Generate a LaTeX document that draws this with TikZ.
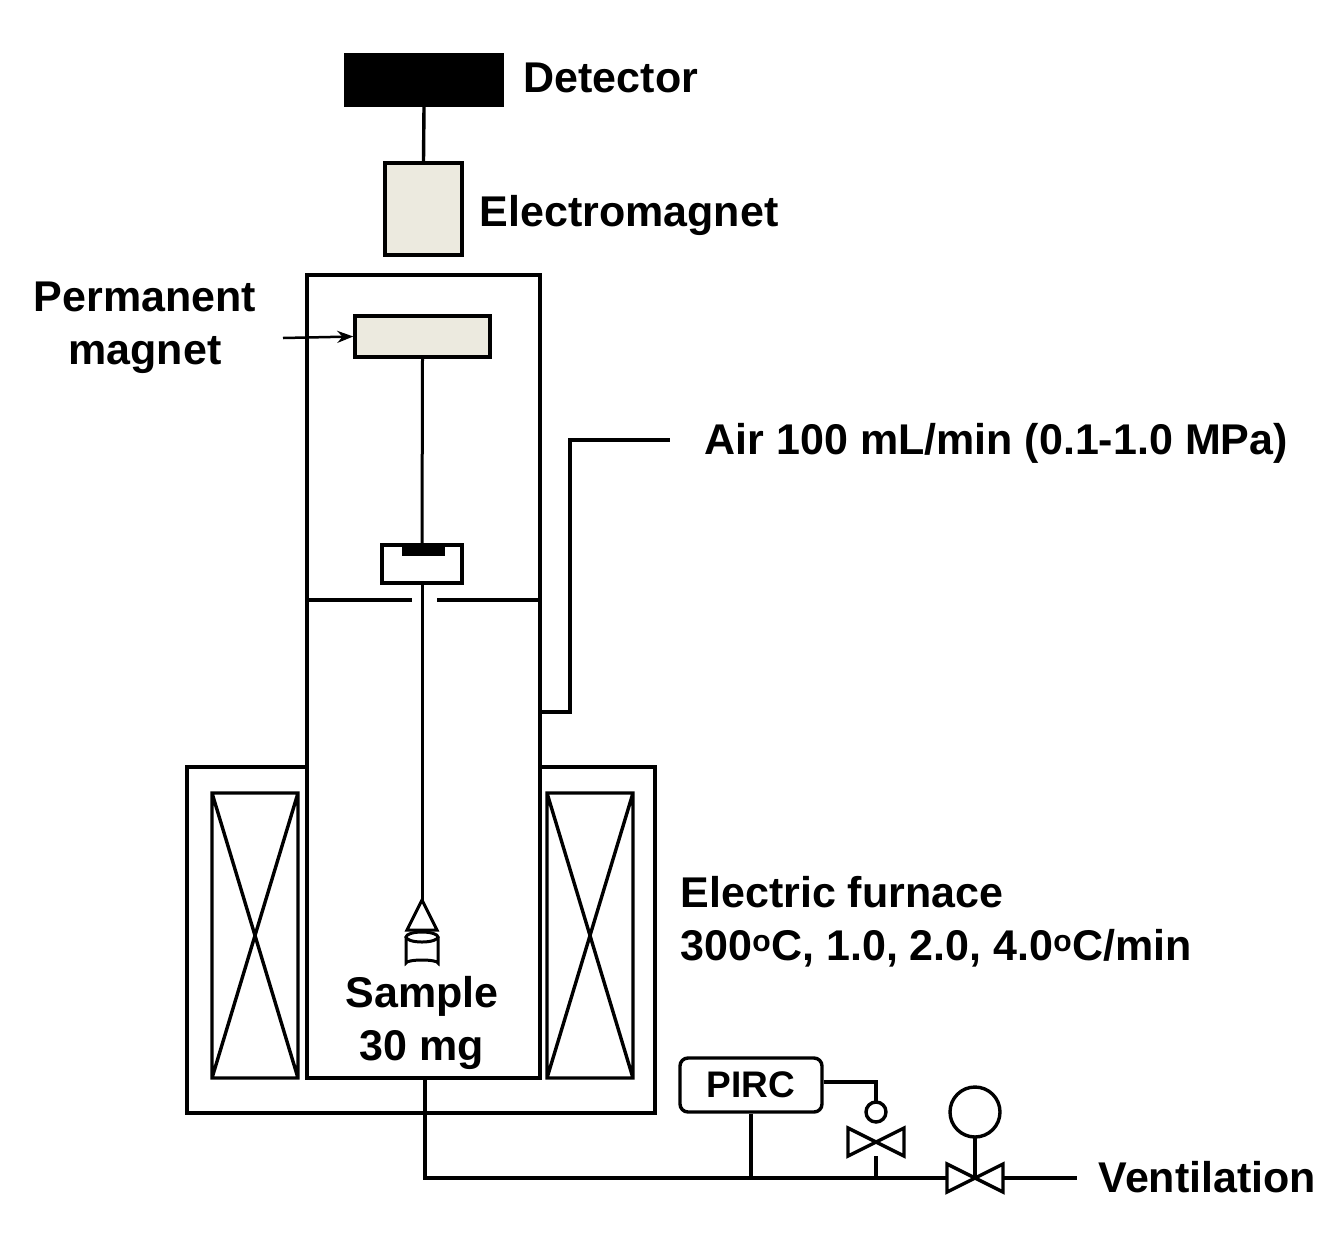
\documentclass[tikz,border=0pt]{standalone}
\usepackage{fontspec}
\setmainfont{Liberation Sans}
\usetikzlibrary{arrows.meta}
\definecolor{bg}{HTML}{ECEADF}
\begin{document}
\begin{tikzpicture}[x=1pt,y=-1pt,line width=3.4pt,
  lbl/.style={font=\fontsize{43}{53}\selectfont\bfseries,inner sep=0pt},
  beige/.style={draw,fill=bg}]
\useasboundingbox (0,0) rectangle (1338,1251);
% detector
\node[draw,fill=black,minimum width=156,minimum height=50,inner sep=0] (det) at (424,80) {};
\node[lbl,anchor=west] (detl) at (522,78) {Detector};
\node[beige,minimum width=77,minimum height=92,inner sep=0] (em) at (423.5,209) {};
\node[lbl,anchor=west] (eml) at (478,215) {Electromagnet};
\draw (det.south) -- (em.north);
% furnace
\draw (187,767) rectangle (655,1113);
\draw[fill=white] (307,275) rectangle (540,1078);
\draw (212,793) rectangle (298,1078) (212,793) -- (298,1078) (298,793) -- (212,1078);
\draw (547,793) rectangle (633,1078) (547,793) -- (633,1078) (633,793) -- (547,1078);
\draw (307,600) -- (412,600) (437,600) -- (540,600);
% permanent magnet
\node[beige,minimum width=135,minimum height=41,inner sep=0] (pm) at (422.5,336.5) {};
\node[lbl,align=center] (pml) at (145,328) {Permanent\\magnet};
\draw[-{Stealth[length=16pt,width=12pt]},line width=2.5pt] (283,338) -- (pm.west);
% pan
\coordinate (pantop) at (422,545);
\draw[line width=3pt] (pm.south) -- (pantop);
\draw (382,545) rectangle (462,583);
\fill (402,545) rectangle (445,556);
\coordinate (samp) at (422,900);
\draw[line width=3pt] (422,583) -- (samp);
\draw[line width=3pt] (samp) -- (407,930) -- (437,930) -- cycle;
\draw[line width=3pt] (406,937) -- (406,963) arc[start angle=180,end angle=360,x radius=16,y radius=3] -- (438,937);
\draw[line width=3pt] (422,937) ellipse[x radius=16,y radius=5];
\node[lbl,align=center] (sl) at (422,1023) {Sample\\30 mg};
% air
\coordinate (a1) at (540,712);
\coordinate (a2) at (670,440);
\draw (a1) -| (570,440) -- (a2);
\node[lbl,anchor=west] (al) at (703,443) {Air 100 mL/min (0.1-1.0 MPa)};
\node[lbl,anchor=west,align=left] (fl) at (679,922) {Electric furnace\\300\textsuperscript{o}C, 1.0, 2.0, 4.0\textsuperscript{o}C/min};
% bottom
\node[draw,rounded corners=8,minimum width=142,minimum height=54,inner sep=0,font=\fontsize{37}{40}\selectfont\bfseries] (pirc) at (751,1085) {PIRC};
\coordinate (vent) at (1077,1178);
\draw (425,1078) -- (425,1178) -- (vent);
\draw (pirc.south) -- (751,1178);
\draw (pirc.east |- 0,1082) -| (876,1102);
\draw (876,1112) circle[radius=10];
\draw[fill=white] (848,1128) -- (904,1156) -- (904,1128) -- (848,1156) -- cycle;
\draw (876,1156) -- (876,1178);
\draw (975,1112) circle[radius=25];
\draw (975,1137) -- (975,1178);
\draw[fill=white] (947,1164) -- (1003,1192) -- (1003,1164) -- (947,1192) -- cycle;
\node[lbl,anchor=west] (vl) at (1097,1177) {Ventilation};
\end{tikzpicture}
\end{document}
